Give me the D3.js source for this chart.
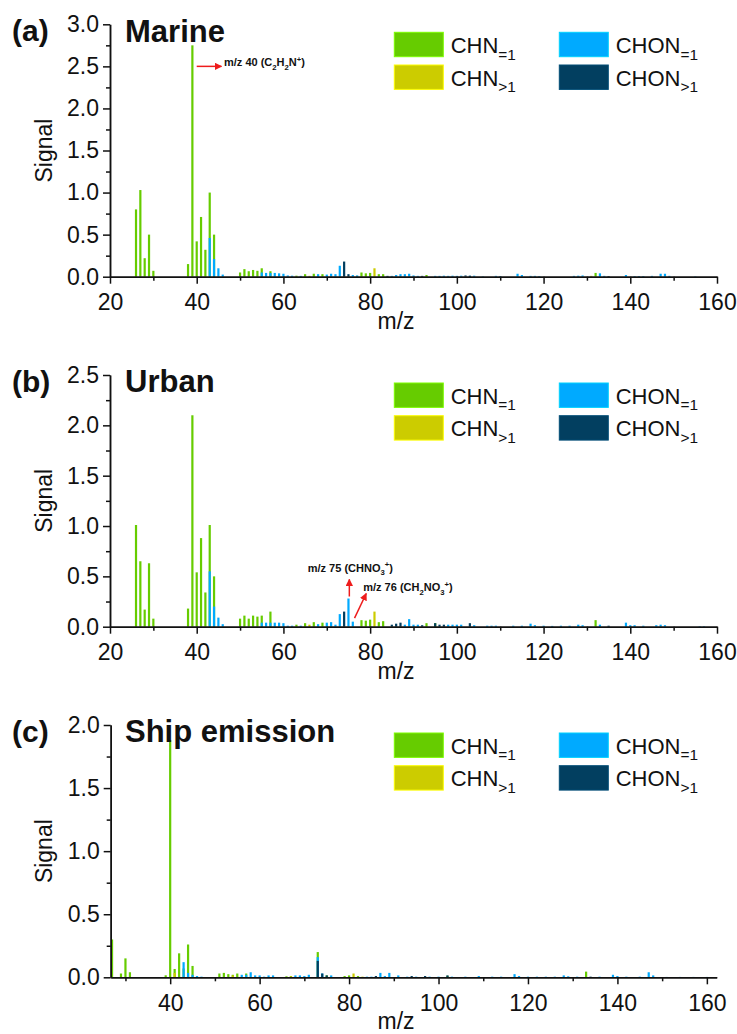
<!DOCTYPE html>
<html>
<head>
<meta charset="utf-8">
<script src="https://cdn.jsdelivr.net/npm/d3@7"></script>
<style>
  body { margin: 0; background: #fff; }
  svg { display: block; }
  text { font-family: Arial, "Liberation Sans", sans-serif; fill: #111; }
</style>
</head>
<body>
<svg id="chart" width="737" height="1034"></svg>
<script>
// ---- data (m/z, signal) ----
const seriesLabels = [["CHN", "=1"], ["CHN", ">1"], ["CHON", "=1"], ["CHON", ">1"]];
const seriesColors = ["#66CC00", "#CCCC00", "#00AAFF", "#023F60"];

const marineCHN1 = [[26,0.80],[27,1.03],[28,0.22],[29,0.50],[30,0.07],[38,0.15],[39,2.75],[40,0.42],[41,0.71],[42,0.32],[43,1.00],[44,0.50],
  [50,0.05],[51,0.09],[52,0.065],[53,0.08],[54,0.07],[55,0.10],[57,0.065],[63,0.012],[65,0.03],[67,0.035],[69,0.03],[78,0.05],[79,0.04],
  [80,0.045],[82,0.03],[83,0.03],[93,0.02],[132,0.045]];
const marineCHN2 = [[66,0.01],[77,0.01],[81,0.10],[131,0.01]];
const marineCHON1 = [[43,0.46],[44,0.21],[45,0.10],[46,0.025],[55,0.05],[56,0.045],[57,0.045],[58,0.045],[59,0.04],[60,0.035],[61,0.015],[62,0.012],
  [64,0.01],[68,0.03],[70,0.025],[71,0.035],[72,0.03],[73,0.13],[76,0.02],[77,0.015],[85,0.01],[86,0.02],[87,0.03],[88,0.03],[89,0.035],[90,0.015],
  [91,0.01],[95,0.01],[96,0.01],[97,0.012],[98,0.01],[99,0.012],[100,0.01],[101,0.012],[103,0.01],[104,0.012],[106,0.005],[109,0.01],[110,0.008],
  [114,0.035],[115,0.02],[117,0.01],[118,0.01],[119,0.008],[127,0.01],[128,0.012],[129,0.015],[133,0.04],[134,0.01],[139,0.02],[141,0.008],
  [142,0.008],[143,0.008],[145,0.01],[147,0.035],[148,0.035],[149,0.01],[155,0.005]];
const marineCHON2 = [[74,0.18],[75,0.03],[84,0.01],[92,0.01],[102,0.015],[103,0.012],[135,0.008]];

const urbanCHN1 = [[26,1.01],[27,0.65],[28,0.17],[29,0.63],[30,0.08],[38,0.18],[39,2.10],[40,0.54],[41,0.88],[42,0.34],[43,1.01],[44,0.50],
  [50,0.08],[51,0.11],[52,0.08],[53,0.11],[54,0.10],[55,0.11],[57,0.15],[63,0.02],[65,0.035],[67,0.045],[69,0.04],[78,0.065],[79,0.06],
  [80,0.07],[82,0.045],[83,0.055],[93,0.035],[95,0.035],[132,0.065]];
const urbanCHN2 = [[66,0.02],[81,0.15]];
const urbanCHON1 = [[43,0.55],[44,0.20],[45,0.09],[46,0.025],[55,0.04],[56,0.04],[57,0.04],[58,0.04],[59,0.04],[60,0.035],[61,0.01],[62,0.01],
  [64,0.01],[68,0.025],[70,0.04],[71,0.045],[72,0.02],[73,0.125],[75,0.28],[76,0.05],[88,0.02],[89,0.075],[90,0.02],[91,0.02],[98,0.02],
  [99,0.02],[100,0.02],[101,0.02],[104,0.015],[107,0.01],[108,0.01],[109,0.01],[113,0.01],[115,0.01],[117,0.03],[118,0.015],[120,0.01],
  [122,0.008],[124,0.01],[126,0.01],[128,0.02],[129,0.015],[133,0.02],[139,0.04],[140,0.015],[141,0.015],[143,0.01],[146,0.015],[147,0.02],
  [148,0.015],[156,0.005],[157,0.005]];
const urbanCHON2 = [[74,0.15],[85,0.02],[86,0.03],[87,0.04],[92,0.015],[95,0.035],[96,0.02],[97,0.02],[103,0.035],[135,0.01]];

const shipCHN1 = [[27,0.30],[29,0.03],[30,0.15],[31,0.04],[39,0.016],[40,1.88],[41,0.066],[42,0.19],[43,0.07],[44,0.26],[45,0.09],
  [51,0.03],[52,0.035],[53,0.025],[54,0.02],[55,0.03],[57,0.03],[66,0.008],[67,0.01],[73,0.20],[75,0.015],[79,0.01],[80,0.015],
  [82,0.01],[102,0.012],[133,0.045]];
const shipCHN2 = [[41,0.035],[54,0.015],[67,0.008],[81,0.03],[83,0.005]];
const shipCHON1 = [[43,0.12],[44,0.035],[45,0.02],[46,0.01],[47,0.005],[56,0.02],[57,0.02],[58,0.04],[59,0.015],[60,0.015],[61,0.005],
  [62,0.015],[63,0.015],[68,0.015],[69,0.015],[70,0.01],[71,0.02],[73,0.16],[74,0.03],[76,0.015],[84,0.005],[85,0.005],[87,0.035],
  [88,0.01],[89,0.035],[91,0.015],[93,0.005],[95,0.005],[98,0.005],[100,0.005],[103,0.005],[106,0.005],[109,0.01],[112,0.005],
  [114,0.005],[117,0.025],[118,0.01],[120,0.005],[122,0.005],[124,0.005],[126,0.005],[128,0.015],[129,0.008],[131,0.005],[136,0.005],
  [139,0.02],[140,0.01],[142,0.005],[145,0.005],[147,0.04],[148,0.015],[151,0.003],[154,0.003],[157,0.003],[160,0.003]];
const shipCHON2 = [[73,0.13],[74,0.03],[75,0.015],[86,0.01],[94,0.01],[97,0.01],[102,0.015],[134,0.005]];

const xTicksAB = [20, 40, 60, 80, 100, 120, 140, 160];
const xTicksC = [40, 60, 80, 100, 120, 140, 160];
const xMinorTicks = [30, 50, 70, 90, 110, 130, 150];
const yTicksA = [0, 0.5, 1.0, 1.5, 2.0, 2.5, 3.0];
const yTicksB = [0, 0.5, 1.0, 1.5, 2.0, 2.5];
const yTicksC = [0, 0.5, 1.0, 1.5, 2.0];

// ---- panels ----
const panels = [
  { tag: "(a)", title: "Marine", series: [marineCHN1, marineCHN2, marineCHON1, marineCHON2],
    xDomain: [20, 160], xTicks: xTicksAB, yTicks: yTicksA, top: 24.3, bottom: 276.7, left: 110, right: 717,
    notes: [{ from: [40, 2.5], to: [45.7, 2.5], text: [46.3, 2.5],
              parts: [["m/z 40 (C"], ["2", "sub"], ["H"], ["2", "sub"], ["N"], ["+", "sup"], [")"]] }] },
  { tag: "(b)", title: "Urban", series: [urbanCHN1, urbanCHN2, urbanCHON1, urbanCHON2],
    xDomain: [20, 160], xTicks: xTicksAB, yTicks: yTicksB, top: 375, bottom: 626.7, left: 110, right: 717,
    notes: [{ from: [75.2, 0.30], to: [75.2, 0.47], text: [65.6, 0.545],
              parts: [["m/z 75 (CHNO"], ["3", "sub"], ["+", "sup"], [")"]] },
            { from: [76.4, 0.085], to: [79.1, 0.33], text: [78.4, 0.35],
              parts: [["m/z 76 (CH"], ["2", "sub"], ["NO"], ["3", "sub"], ["+", "sup"], [")"]] }] },
  { tag: "(c)", title: "Ship emission", series: [shipCHN1, shipCHN2, shipCHON1, shipCHON2],
    xDomain: [26.7, 162.2], xTicks: xTicksC, yTicks: yTicksC, top: 725, bottom: 977.3, left: 110.7, right: 716.7,
    notes: [] }
];

const svg = d3.select("#chart");

svg.append("defs").append("marker")
  .attr("id", "arrow")
  .attr("viewBox", "0 0 10 10")
  .attr("refX", 9).attr("refY", 5)
  .attr("markerWidth", 5).attr("markerHeight", 5)
  .attr("orient", "auto")
  .append("path")
  .attr("d", "M0,0 L10,5 L0,10 z")
  .attr("fill", "#ee1c1c");

// text with sub/superscript pieces
function richText(sel, parts, size) {
  let shift = 0;
  parts.forEach(([str, kind]) => {
    let target = 0;
    if (kind === "sub") target = size * 0.3;
    if (kind === "sup") target = -size * 0.4;
    sel.append("tspan")
      .attr("dy", target - shift)
      .style("font-size", kind ? (size * 0.7) + "px" : size + "px")
      .text(str);
    shift = target;
  });
}

function styleAxis(g) {
  g.select(".domain").attr("stroke", "#111").attr("stroke-width", 1.5);
  g.selectAll(".tick line").attr("stroke", "#111").attr("stroke-width", 1.5);
  g.selectAll(".tick text").style("font-size", "23px").attr("fill", "#111");
}

panels.forEach(p => {
  const x = d3.scaleLinear().domain(p.xDomain).range([p.left, p.right]);
  const yMax = p.yTicks[p.yTicks.length - 1];
  const y = d3.scaleLinear().domain([0, yMax]).range([p.bottom, p.top]);
  const g = svg.append("g");
  const bw = 2.2;

  // bars, one layer per series, overlaid from the baseline
  p.series.forEach((s, i) => {
    g.append("g").selectAll("rect")
      .data(s)
      .enter().append("rect")
      .attr("x", d => x(d[0]) - bw / 2)
      .attr("y", d => y(d[1]))
      .attr("width", bw)
      .attr("height", d => y(0) - y(d[1]))
      .attr("fill", seriesColors[i]);
  });

  // minor ticks first, then the main axes over them
  const yMinor = p.yTicks.slice(0, -1).map(v => v + 0.25);
  g.append("g").attr("transform", `translate(0,${p.bottom})`)
    .call(d3.axisBottom(x).tickValues(xMinorTicks.filter(v => v > p.xDomain[0])).tickSize(4).tickSizeOuter(0).tickFormat(""))
    .call(styleAxis);
  g.append("g").attr("transform", `translate(${p.left},0)`)
    .call(d3.axisLeft(y).tickValues(yMinor).tickSize(4).tickSizeOuter(0).tickFormat(""))
    .call(styleAxis);

  g.append("g").attr("transform", `translate(0,${p.bottom})`)
    .call(d3.axisBottom(x).tickValues(p.xTicks).tickSize(7).tickSizeOuter(0).tickPadding(10).tickFormat(d3.format("d")))
    .call(styleAxis);
  g.append("g").attr("transform", `translate(${p.left},0)`)
    .call(d3.axisLeft(y).tickValues(p.yTicks).tickSize(7).tickSizeOuter(0).tickPadding(4).tickFormat(d3.format(".1f")))
    .call(styleAxis);

  // axis titles
  g.append("text")
    .attr("transform", `translate(52,${(p.top + p.bottom) / 2}) rotate(-90)`)
    .attr("text-anchor", "middle")
    .style("font-size", "23px")
    .text("Signal");
  g.append("text")
    .attr("x", 396).attr("y", p.bottom + 52)
    .attr("text-anchor", "middle")
    .style("font-size", "23px")
    .text("m/z");

  // panel tag and title
  g.append("text")
    .attr("x", 12).attr("y", p.top + 16.5)
    .style("font-size", "30px").style("font-weight", "bold")
    .text(p.tag);
  g.append("text")
    .attr("x", 125).attr("y", p.top + 17.4)
    .style("font-size", "31px").style("font-weight", "bold")
    .text(p.title);

  // legend
  const lg = g.append("g").attr("transform", `translate(394.3,${p.top + 8})`);
  seriesLabels.forEach((lab, i) => {
    const col = Math.floor(i / 2), row = i % 2;
    const item = lg.append("g").attr("transform", `translate(${col * 165},${row * 32.7})`);
    item.append("rect")
      .attr("width", 49).attr("height", 24.4)
      .attr("fill", seriesColors[i])
      .attr("stroke", d3.color(seriesColors[i]).brighter(0.6))
      .attr("stroke-width", 1);
    const t = item.append("text").attr("x", 56.4).attr("y", 20.7);
    richText(t, [[lab[0]], [lab[1], "sub"]], 22);
  });

  // annotations
  p.notes.forEach(n => {
    g.append("line")
      .attr("x1", x(n.from[0])).attr("y1", y(n.from[1]))
      .attr("x2", x(n.to[0])).attr("y2", y(n.to[1]))
      .attr("stroke", "#ee1c1c").attr("stroke-width", 1.5)
      .attr("marker-end", "url(#arrow)");
    const t = g.append("text")
      .attr("x", x(n.text[0])).attr("y", y(n.text[1]))
      .attr("dy", "0.35em")
      .style("font-weight", "bold");
    richText(t, n.parts, 11);
  });
});
</script>
</body>
</html>
